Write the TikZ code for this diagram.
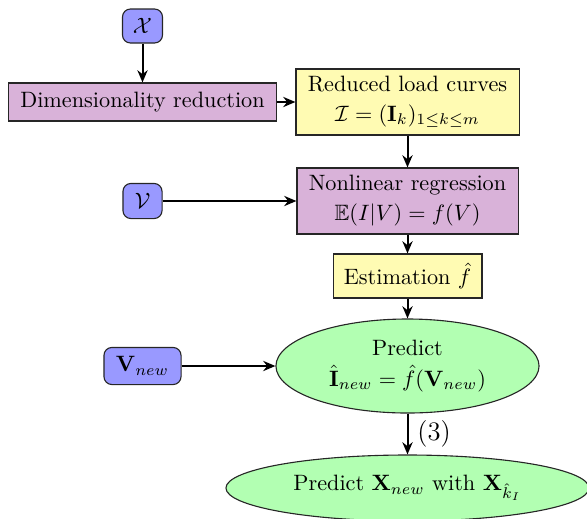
\documentclass[tikz,border=0pt]{standalone}
\usepackage{amssymb}
\usetikzlibrary{arrows.meta,shapes.geometric}
\begin{document}
\begin{tikzpicture}[x=0.45pt,y=-0.45pt,
  every node/.style={inner sep=0pt,align=center},
  inbox/.style={draw=black!85,fill=blue!40,rounded corners=3.6pt,line width=0.5pt},
  purplebox/.style={draw=black!85,fill=violet!30,line width=0.5pt},
  yellowbox/.style={draw=black!85,fill=yellow!30,line width=0.5pt},
  greenell/.style={draw=black!85,fill=green!30,ellipse,line width=0.5pt},
  arr/.style={line width=0.9pt,-{Stealth[length=5.5pt,width=4.6pt,inset=1.8pt]}}]
\useasboundingbox (0,0) rectangle (587,518);
\clip (0,0) rectangle (587,518);
\node[inbox,minimum width=18pt,minimum height=15.3pt] (X) at (142.5,26) {$\mathcal{X}$};
\node[purplebox,minimum width=120.6pt,minimum height=17.1pt] (dim) at (142.5,102) {Dimensionality reduction};
\node[yellowbox,minimum width=100.4pt,minimum height=29.7pt] (red) at (407.5,102) {Reduced load curves\\[1.5pt] $\mathcal{I} = (\mathbf{I}_k)_{1\leq k\leq m}$};
\node[purplebox,minimum width=99.5pt,minimum height=29.7pt] (nlr) at (407.5,201) {Nonlinear regression\\[1.5pt] $\mathbb{E}(I|V) = f(V)$};
\node[inbox,minimum width=17.6pt,minimum height=15.8pt] (V) at (142.5,201) {$\mathcal{V}$};
\node[yellowbox,minimum width=67pt,minimum height=19.8pt] (est) at (407.5,276) {Estimation $\hat{f}$};
\node[inbox,minimum width=34.7pt,minimum height=16.7pt] (Vn) at (142.5,366) {$\mathbf{V}_{new}$};
\node[greenell,minimum width=118.4pt,minimum height=42.3pt] (pred) at (407.5,366) {Predict\\[2pt] $\hat{\mathbf{I}}_{new} = \hat{f}(\mathbf{V}_{new})$};
\node[greenell,minimum width=163.4pt,minimum height=29.7pt] (out) at (407.5,488) {Predict $\mathbf{X}_{new}$ with $\mathbf{X}_{\hat{k}_I}$};
\draw[arr] (X) -- (dim);
\draw[arr] (dim) -- (red);
\draw[arr] (red) -- (nlr);
\draw[arr] (V) -- (nlr);
\draw[arr] (nlr) -- (est);
\draw[arr] (est) -- (pred);
\draw[arr] (Vn) -- (pred);
\draw[arr] (pred) -- node[right=4pt,font=\large,inner sep=0pt] (lbl) {(3)} (out);
\end{tikzpicture}
\end{document}
